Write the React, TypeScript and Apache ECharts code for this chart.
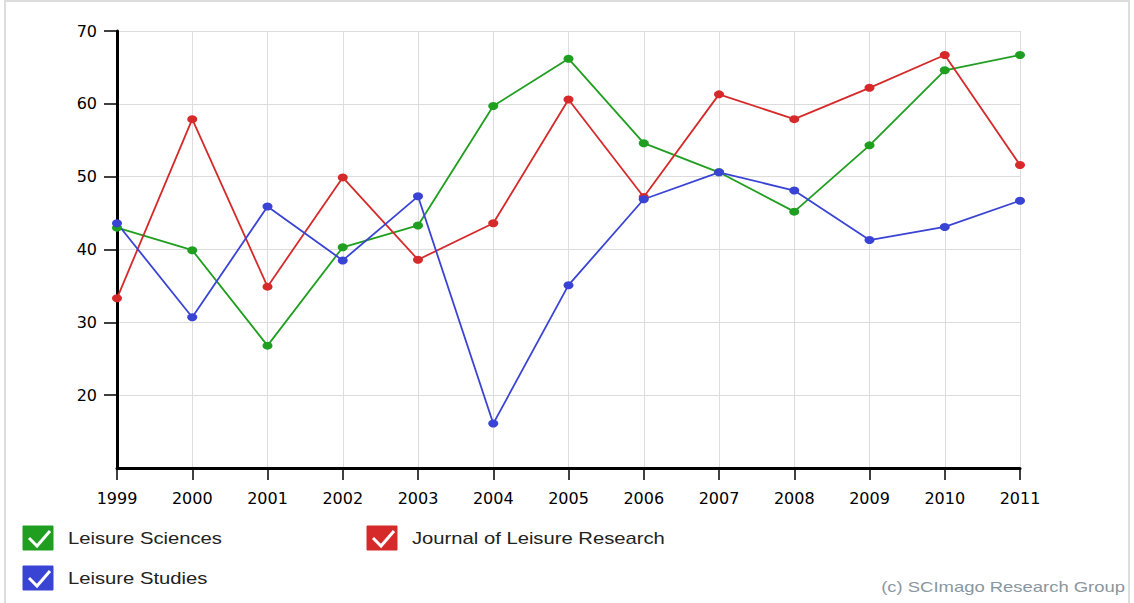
import React, { useEffect, useRef } from "react";
import * as echarts from "echarts";

const years = ["1999", "2000", "2001", "2002", "2003", "2004", "2005", "2006", "2007", "2008", "2009", "2010", "2011"];
const leisureSciences = [43.0, 39.9, 26.8, 40.3, 43.3, 59.7, 66.2, 54.6, 50.6, 45.2, 54.3, 64.6, 66.7];
const journalLeisureResearch = [33.3, 57.9, 34.9, 49.9, 38.6, 43.6, 60.6, 47.2, 61.3, 57.9, 62.2, 66.7, 51.6];
const leisureStudies = [43.6, 30.7, 45.9, 38.5, 47.3, 16.1, 35.1, 46.9, 50.6, 48.1, 41.3, 43.1, 46.7];

const seriesNames = ["Leisure Sciences", "Journal of Leisure Research", "Leisure Studies"];
const seriesColors = ["#1f9e1f", "#d62a2a", "#3a44d4"];
const yTicks = { min: 10, max: 70, interval: 10 };
const credit = "(c) SCImago Research Group";

function legendItem(name: string, color: string, x: number, y: number) {
  return {
    type: "group",
    x,
    y,
    children: [
      { type: "rect", shape: { x: 0, y: 0, width: 30, height: 24 }, style: { fill: color, stroke: color, lineWidth: 1 } },
      {
        type: "polyline",
        shape: { points: [[6, 12], [14, 20], [27, 5]] },
        style: { stroke: "#ffffff", lineWidth: 3, fill: "none" },
      },
      {
        type: "text",
        x: 45,
        y: 12,
        scaleX: 1.19,
        style: {
          text: name,
          fontFamily: "Liberation Sans",
          fontSize: 17,
          fill: "#222",
          textVerticalAlign: "middle",
          verticalAlign: "middle",
        },
      },
    ],
  };
}

export default function App() {
  const ref = useRef<HTMLDivElement>(null);
  useEffect(() => {
    document.body.style.margin = "0";
    const chart = echarts.init(ref.current!, null, { renderer: "svg" });
    const data = [leisureSciences, journalLeisureResearch, leisureStudies];
    chart.setOption({
      animation: false,
      backgroundColor: "#ffffff",
      grid: { left: 117, right: 114, top: 31, bottom: 135, containLabel: false },
      xAxis: {
        type: "category",
        data: years,
        boundaryGap: false,
        axisLine: { show: true, onZero: false, lineStyle: { color: "#000", width: 3 } },
        axisTick: { show: true, length: 12, lineStyle: { color: "#000", width: 1.5 } },
        axisLabel: { margin: 22, fontFamily: "DejaVu Sans", fontSize: 16, color: "#000" },
        splitLine: { show: true, lineStyle: { color: "#dcdcdc", width: 1 } },
      },
      yAxis: {
        type: "value",
        min: yTicks.min,
        max: yTicks.max,
        interval: yTicks.interval,
        axisLine: { show: true, lineStyle: { color: "#000", width: 3 } },
        axisTick: { show: true, length: 13, lineStyle: { color: "#000", width: 1.5 } },
        axisLabel: { showMinLabel: false, margin: 20, fontFamily: "DejaVu Sans", fontSize: 16, color: "#000" },
        splitLine: { show: true, lineStyle: { color: "#dcdcdc", width: 1 } },
      },
      series: seriesNames.map((name, i) => ({
        name,
        type: "line",
        data: data[i],
        symbol: "circle",
        symbolSize: [10, 8],
        itemStyle: { color: seriesColors[i] },
        lineStyle: { color: seriesColors[i], width: 1.8 },
      })),
      graphic: [
        {
          type: "rect",
          shape: { x: 5, y: 1, width: 1124, height: 640 },
          style: { fill: "none", stroke: "#dddddd", lineWidth: 2 },
          silent: true,
        },
        legendItem(seriesNames[0], seriesColors[0], 23, 526),
        legendItem(seriesNames[1], seriesColors[1], 367, 526),
        legendItem(seriesNames[2], seriesColors[2], 23, 566),
        {
          type: "text",
          x: 1125,
          y: 587,
          scaleX: 1.23,
          style: {
            text: credit,
            fontFamily: "Liberation Sans",
            fontSize: 15,
            fill: "#8a969e",
            align: "right",
            textAlign: "right",
            verticalAlign: "middle",
            textVerticalAlign: "middle",
          },
        },
      ],
    });
    return () => chart.dispose();
  }, []);
  return <div ref={ref} style={{ position: "absolute", left: 0, top: 0, width: 1134, height: 603 }} />;
}
